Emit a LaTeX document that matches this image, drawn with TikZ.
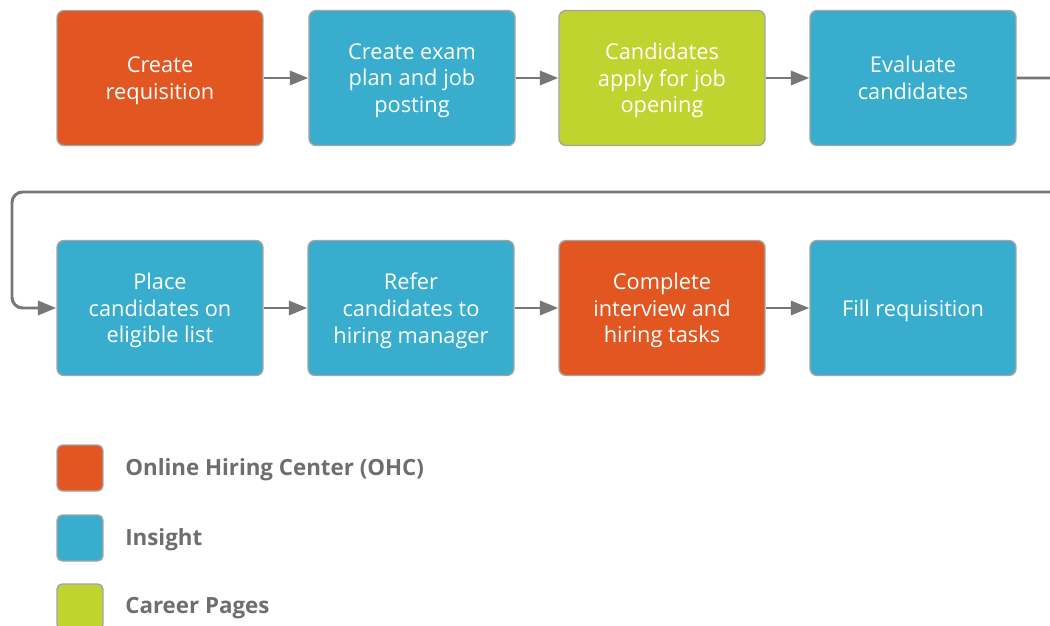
\documentclass[tikz,border=0pt]{standalone}
\usepackage{fontspec}
\setmainfont{Open Sans}
\usetikzlibrary{arrows.meta}
\definecolor{ohc}{HTML}{E25622}
\definecolor{insight}{HTML}{38ADCE}
\definecolor{career}{HTML}{C1D32F}
\definecolor{edge}{HTML}{A4A4A4}
\definecolor{flow}{HTML}{777777}
\definecolor{legendtext}{HTML}{6E6E6E}
\tikzset{
  stepbox/.style={draw=edge, line width=0.8pt, rounded corners=4pt,
    minimum width=4.12cm, minimum height=2.7cm, inner sep=2pt,
    text=white, align=center, text depth=0pt,
    font=\fontsize{12.4}{15.2}\selectfont},
  orangebox/.style={stepbox, fill=ohc},
  bluebox/.style={stepbox, fill=insight},
  greenbox/.style={stepbox, fill=career},
  flowline/.style={draw=flow, line width=1.7pt,
    -{Triangle[length=10.5pt,width=8pt]}},
  keybox/.style={draw=edge, line width=0.8pt, rounded corners=3pt,
    minimum width=0.92cm, minimum height=0.92cm, inner sep=0pt},
  keytext/.style={anchor=west, text=legendtext, inner sep=0pt,
    font=\bfseries\fontsize{12.7}{15}\selectfont}
}
\begin{document}
\begin{tikzpicture}[x=0.02cm, y=-0.02cm]
\useasboundingbox (0,0) rectangle (1050,625);
\clip (0,0) rectangle (1050,625);
\fill[white] (0,0) rectangle (1050,625);

% first row of steps
\node[orangebox] (req)    at (160,78)  {Create\\requisition};
\node[bluebox]   (plan)   at (412,78)  {Create exam\\plan and job\\posting};
\node[greenbox]  (apply)  at (662,78)  {Candidates\\apply for job\\opening};
\node[bluebox]   (eval)   at (913,78)  {Evaluate\\candidates};

% second row of steps
\node[bluebox]   (list)   at (160,308) {Place\\candidates on\\eligible list};
\node[bluebox]   (refer)  at (411,308) {Refer\\candidates to\\hiring manager};
\node[orangebox] (interv) at (662,308) {Complete\\interview and\\hiring tasks};
\node[bluebox]   (fill)   at (913,308) {Fill requisition};

% connectors
\draw[flowline] (req) -- (plan);
\draw[flowline] (plan) -- (apply);
\draw[flowline] (apply) -- (eval);
\draw[flowline, rounded corners=6pt]
  (eval.east) -- (1075,78) -- (1075,192) -- (12,192) -- (12,308) -- (list.west);
\draw[flowline] (list) -- (refer);
\draw[flowline] (refer) -- (interv);
\draw[flowline] (interv) -- (fill);

% legend
\node[keybox, fill=ohc]     (k1) at (80,468) {};
\node[keybox, fill=insight] (k2) at (80,538) {};
\node[keybox, fill=career]  (k3) at (80,607) {};
\node[keytext] (t1) at (125,470) {Online Hiring Center (OHC)};
\node[keytext] (t2) at (125,540) {Insight};
\node[keytext] (t3) at (125,608) {Career Pages};
\end{tikzpicture}
\end{document}
